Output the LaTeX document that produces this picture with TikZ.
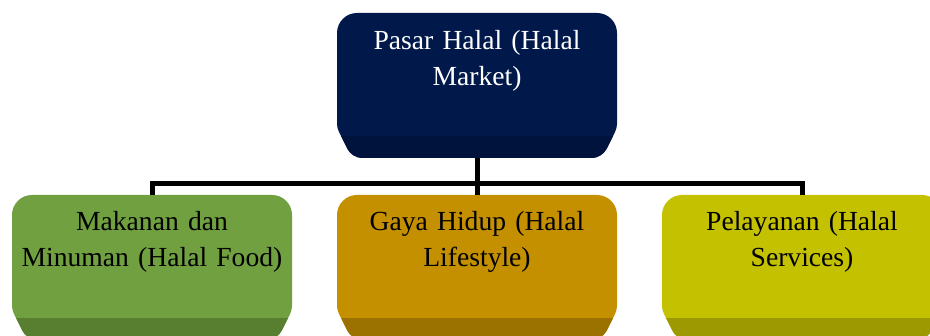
\documentclass[tikz,border=0pt]{standalone}
\usepackage{fontspec}
\setmainfont{Liberation Serif}
\definecolor{navyF}{HTML}{00194A}
\definecolor{navyD}{HTML}{00133D}
\definecolor{greenF}{HTML}{70A03F}
\definecolor{greenD}{HTML}{587E2F}
\definecolor{goldF}{HTML}{C49000}
\definecolor{goldD}{HTML}{9B7200}
\definecolor{oliveF}{HTML}{C4C200}
\definecolor{oliveD}{HTML}{9C9A00}
\newcommand{\bevelshape}[4]{%
  \begin{scope}
    \path[clip] ({#1+140},{#2+145}) [rounded corners=10pt] -- ({#1+15},{#2+145})
      [rounded corners=4pt] -- (#1,{#2+115}) [rounded corners=20pt] -- (#1,#2)
      -- ({#1+280},#2) [rounded corners=4pt] -- ({#1+280},{#2+115})
      [rounded corners=10pt] -- ({#1+265},{#2+145}) -- cycle;
    \fill[#3] ({#1-5},{#2-5}) rectangle ({#1+285},{#2+150});
    \fill[#4] ({#1-5},{#2+123}) rectangle ({#1+285},{#2+150});
  \end{scope}}
\tikzset{
  holder/.style={draw=none, inner sep=0pt, minimum width=280pt, minimum height=145pt},
  boxtext/.style={anchor=north, inner sep=0pt, align=center, text width=270pt,
    font=\fontsize{27.6}{36.5}\selectfont},
  conn/.style={draw=black, line width=5pt, line join=miter}
}
\begin{document}
\begin{tikzpicture}[x=1pt, y=-1pt]
\useasboundingbox (0,0) rectangle (930,336);
% shapes
\bevelshape{337}{13}{navyF}{navyD}
\bevelshape{12}{195}{greenF}{greenD}
\bevelshape{337}{195}{goldF}{goldD}
\bevelshape{662}{195}{oliveF}{oliveD}
% holders
\node[holder] (mkt) at (477,85.5) {};
\node[holder] (food) at (152,267.5) {};
\node[holder] (life) at (477,267.5) {};
\node[holder] (serv) at (802,267.5) {};
% texts
\node[boxtext, text=white] (mktT) at (477,30) {Pasar Halal (Halal\\Market)};
\node[boxtext] (foodT) at (152,211) {Makanan dan\\Minuman (Halal Food)};
\node[boxtext] (lifeT) at (477,211) {Gaya Hidup (Halal\\Lifestyle)};
\node[boxtext] (servT) at (802,211) {Pelayanan (Halal\\Services)};
% connectors
\draw[conn] (mkt.south) -- ++(0,25) -| (food.north);
\draw[conn] (mkt.south) -- ++(0,25) -| (serv.north);
\draw[conn] (mkt.south) -- (life.north);
\end{tikzpicture}
\end{document}
